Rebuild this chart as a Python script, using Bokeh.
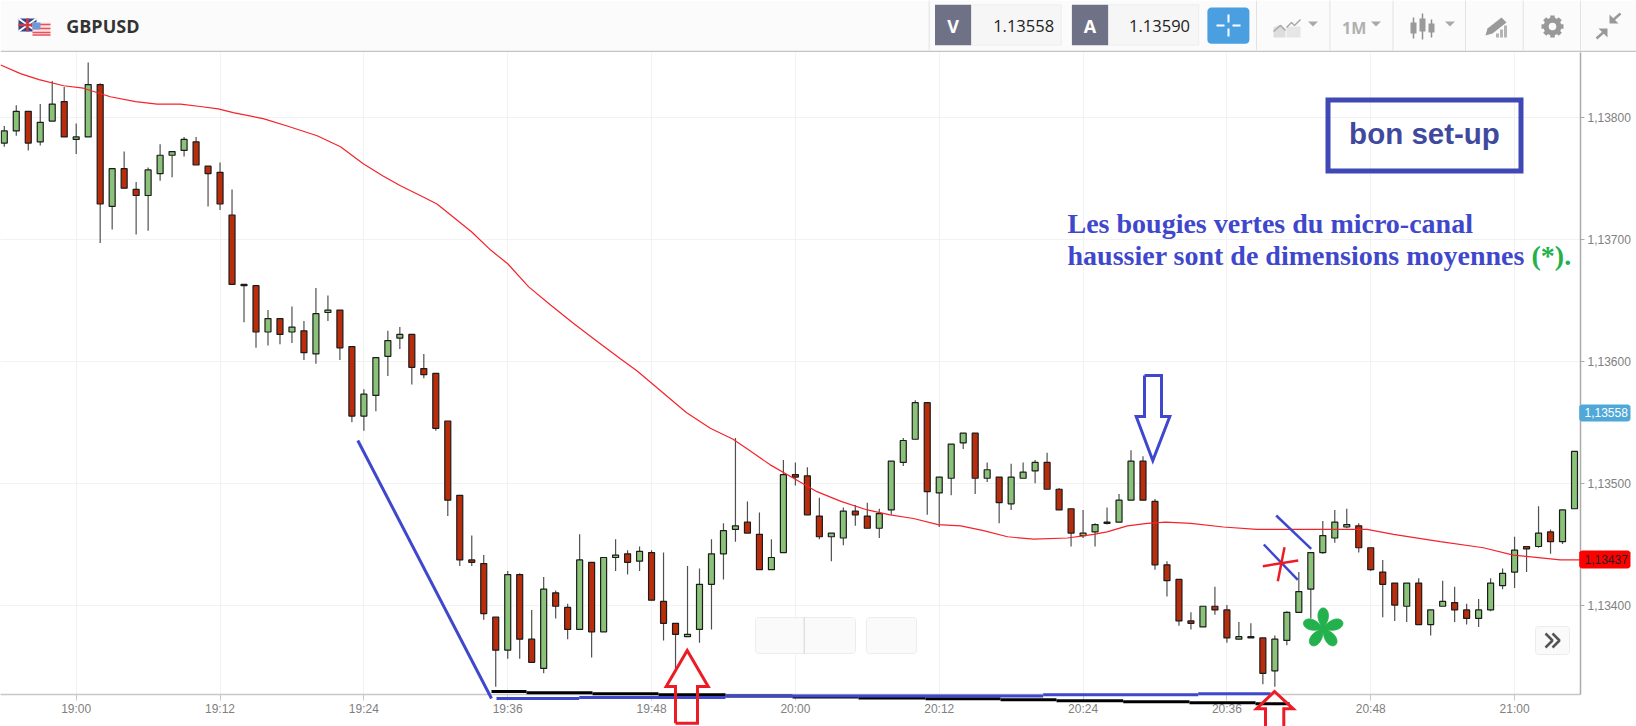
import numpy as np
from bokeh.embed import file_html
from bokeh.layouts import column
from bokeh.models import ColumnDataSource, FixedTicker, Range1d
from bokeh.plotting import figure
from bokeh.core.properties import value
from bokeh.resources import INLINE

# ---- data: candles, one per minute; prices are given as points above 1.13000
minutes = list(range(-6, 126))
opens = [779,789,805,780,797,813,782,784,827,727,758,741,736,754,769,773,780,760,755,720,
         662,662,624,635,624,625,606,640,642,612,555,572,604,619,622,594,590,551,490,437,
         434,390,363,425,372,348,410,398,380,435,378,439,442,436,443,403,385,374,380,417,
         442,462,468,458,429,443,507,506,473,456,455,477,473,463,478,517,536,566,492,504,
         533,541,504,505,483,504,510,517,495,479,457,460,467,468,486,518,485,433,421,387,
         382,399,396,372,373,373,346,371,394,413,443,455,464,465,447,427,418,399,418,384,
         399,402,396,389,396,416,427,448,448,460,452,479]
closes = [789,805,779,796,811,784,784,827,729,758,742,736,757,769,772,782,761,754,729,663,
          663,624,635,622,628,607,639,642,611,555,573,603,617,622,595,589,545,486,437,435,
          393,363,425,372,353,413,399,380,437,378,439,441,435,444,404,385,376,376,417,442,
          461,465,459,429,439,507,505,474,456,459,477,474,463,475,518,535,566,493,505,532,
          541,504,511,484,505,509,517,495,478,459,459,466,468,486,518,486,433,420,387,385,
          399,396,373,374,374,344,372,394,411,443,457,468,466,447,429,417,400,418,384,396,
          403,396,389,396,418,426,445,446,459,452,478,526]
highs = [793,810,805,811,830,825,795,845,828,758,772,747,759,778,772,784,784,760,763,741,
         663,662,642,635,645,633,660,654,642,612,577,603,625,628,622,606,590,551,490,457,
         441,390,428,426,396,423,412,401,458,435,439,454,445,448,445,443,385,432,430,454,
         467,537,485,476,454,519,517,513,488,459,480,482,484,479,518,537,568,566,505,532,
         541,541,517,505,516,517,519,525,496,479,478,467,480,491,527,522,487,436,421,394,
         399,415,400,386,385,373,375,395,427,443,469,478,479,467,447,437,418,418,422,396,
         420,415,401,405,422,430,456,448,481,462,478,526]
lows = [776,785,773,777,797,784,770,784,697,708,742,704,707,748,751,768,761,727,724,663,
        632,611,613,614,615,601,598,633,601,550,543,559,588,610,581,586,543,473,432,432,
        388,333,356,356,353,344,389,372,380,357,378,428,425,428,404,371,345,374,369,380,
        421,452,459,429,429,443,498,474,454,436,449,465,463,455,474,514,536,474,464,490,
        528,491,501,467,478,504,500,495,478,448,455,448,466,468,486,486,429,407,383,380,
        382,392,369,372,373,335,333,367,394,389,442,451,463,443,428,390,387,386,384,375,
        399,386,384,382,395,413,414,427,447,442,450,479]
ma_minutes = [-6.3,-4.65,-3.1,-1.05,0.6,2.85,4.95,6.75,8.7,10.35,11.85,13.1,15.6,17.6,20.1,22.05,
              23.95,25.6,27.05,28.7,30.1,31.5,33,34.6,36,37.75,39.6,41.5,43.5,45.4,46.8,50.9,
              52.9,54.8,56,57.9,59.85,61.8,63.8,66,67.9,69.85,71.9,73.8,75.7,77.7,79.9,82.7,
              84.9,86,87.7,89.35,90.9,93,95.7,98.5,101.3,104.9,107.7,109.9,113.8,117.4,119.9,
              123.8,125.5]
ma_points = [843,836,831,826,824,817,813,811,811,809,807,804,799,793,785,776,762,752,744,736,
             729,718,706,691,680,661,646,631,616,602,592,558,545,536,528,515,504,493,485,478,
             474,471,466,465,461,456,454,455,458,460,465,467,468,467,464,462,462,462,462,458,
             452,447,441,437,437]
time_ticks = [0, 12, 24, 36, 48, 60, 72, 84, 96, 108, 120]
time_labels = ["19:00","19:12","19:24","19:36","19:48","20:00","20:12","20:24","20:36","20:48","21:00"]
price_ticks = [1.134, 1.135, 1.136, 1.137, 1.138]
price_labels = ["1,13400","1,13500","1,13600","1,13700","1,13800"]
bid, ask, last_ma = 1.13558, 1.13590, 1.13437

to_price = lambda a: [1.13 + v / 1e5 for v in a]
O, C, H, L = map(to_price, (opens, closes, highs, lows))
GREEN, RED = "#8bc27a", "#b92c0c"

# ---- main chart: page pixels 0..1580 / 52..694 of the frame
X0, X1, Y0, Y1 = -6.316, 125.5, 1.133266, 1.138533
rx = lambda px: X0 + (np.asarray(px, float)) * (X1 - X0) / 1580
ry = lambda py: Y1 - (np.asarray(py, float) - 52) * (Y1 - Y0) / 642

p = figure(width=1636, height=674, output_backend="svg", toolbar_location=None,
           x_range=Range1d(X0, X1), y_range=Range1d(Y0, Y1), y_axis_location="right",
           min_border_left=0, min_border_right=56, min_border_top=0, min_border_bottom=32,
           outline_line_color=None, background_fill_color="white", border_fill_color="white")
p.xgrid.grid_line_color = "#f2f2f2"
p.ygrid.grid_line_color = "#f2f2f2"
p.xaxis.ticker = FixedTicker(ticks=time_ticks)
p.yaxis.ticker = FixedTicker(ticks=price_ticks)
p.xaxis.major_label_overrides = dict(zip(time_ticks, time_labels))
p.yaxis.major_label_overrides = dict(zip(price_ticks, price_labels))
for ax, col in ((p.xaxis, "#c8c8c8"), (p.yaxis, "#aaaaaa")):
    ax.axis_line_color = col
    ax.axis_line_width = 1.5
    ax.major_tick_line_color = col
    ax.minor_tick_line_color = None
    ax.major_tick_in = 0
    ax.major_label_text_font = "Liberation Sans"
    ax.major_label_text_font_size = "12px"
    ax.major_label_text_color = "#808080"
p.xaxis.major_tick_out = 6
p.yaxis.major_tick_out = 4
p.xaxis.major_label_standoff = 1
p.yaxis.major_label_standoff = 3

# empty nav buttons
def rounded(x0, y0, x1, y1, r=3):
    a = np.linspace(0, np.pi / 2, 5)
    xs = np.r_[x1 - r + r * np.sin(a), x1 - r + r * np.cos(a), x0 + r - r * np.sin(a), x0 + r - r * np.cos(a)]
    ys = np.r_[y0 + r - r * np.cos(a), y1 - r + r * np.sin(a), y1 - r + r * np.cos(a), y0 + r - r * np.sin(a)]
    return xs, ys

for b in ((755, 617, 855, 653), (866, 617, 916, 653), (1535, 626, 1569, 654)):
    xs, ys = rounded(*b)
    p.patch(rx(xs), ry(ys), fill_color="#fafafa", line_color="#ececec", line_width=1)
p.line(rx([803.7, 803.7]), ry([617, 653]), line_color="#d4d4d4")
for dx in (0, 7):
    p.line(rx(np.array([1545, 1552, 1545]) + dx), ry([633, 640, 647]), line_color="#555555", line_width=2.5)

# candles
src = ColumnDataSource(dict(m=minutes, o=O, c=C, h=H, l=L,
                            top=[max(a, b) for a, b in zip(O, C)],
                            bottom=[min(a, b) for a, b in zip(O, C)],
                            fill=[GREEN if b >= a else RED for a, b in zip(O, C)]))
p.segment("m", "h", "m", "l", source=src, line_color="#505050", line_width=1.2)
p.vbar("m", 0.5, "top", "bottom", source=src, fill_color="fill", line_color="#1c1c1c", line_width=1.2)
p.line(ma_minutes, [1.13 + v / 1e5 for v in ma_points], line_color="#f5222a", line_width=1.2)

# ---- transparent overlay, in page pixels, for marks that run past the plot frame
ov = figure(width=1636, height=674, output_backend="svg", toolbar_location=None,
            x_range=Range1d(0, 1636), y_range=Range1d(726, 52), min_border=0,
            outline_line_color=None, background_fill_alpha=0, border_fill_alpha=0)
ov.axis.visible = False
ov.grid.visible = False

BLUE, PEN_RED = "#3f48cc", "#ed1c24"
def pen(xs, ys, color=BLUE, w=3):
    ov.line(xs, ys, line_color=color, line_width=w, line_join="miter")

pen([357.3, 491], [440, 698])
for xs, ys in (([491, 526], [691, 691]), ([526, 592], [692.3, 692.3]), ([592, 658], [693.3, 693.3]),
               ([658, 725], [694.3, 694.3]), ([725, 792], [695.5, 695.5]), ([792, 858], [696.5, 696.5]),
               ([858, 925], [697.5, 697.5]), ([925, 1000], [698.3, 698.3]), ([1000, 1056], [699.3, 699.3]),
               ([1056, 1122.7], [700.3, 700.3]), ([1122.7, 1189], [701.3, 701.3]),
               ([1189, 1255], [702.3, 702.3]), ([1255, 1289], [703.3, 703.3])):
    pen(xs, ys, "#000000", 3)
for xs, ys in (([496, 578.7], [698, 698]), ([578.7, 725], [697, 697]), ([725, 1042.7], [695.5, 695.5]),
               ([1042.7, 1197.7], [694.3, 694.3]), ([1197.7, 1270], [693.3, 693.3])):
    pen(xs, ys, BLUE, 3)
pen([675, 675, 665.7, 686.7, 707.7, 697, 697, 675], [722.7, 686, 686, 650, 686, 686, 722.7, 722.7], PEN_RED, 3)
pen([1265, 1265, 1256, 1274, 1292.7, 1283.3, 1283.3], [730, 708.3, 708.3, 691, 708.3, 708.3, 730], PEN_RED, 3)
pen([1144, 1161, 1161, 1169.3, 1152.3, 1135.7, 1144, 1144], [375, 375, 416, 416, 460, 416, 416, 375], BLUE, 3)
pen([1275.7, 1310.7], [515, 548.3], BLUE, 2.5)
pen([1263.3, 1297.3], [544, 579.3], BLUE, 2.5)
pen([1284, 1277.3], [546.7, 580.7], PEN_RED, 2.5)
pen([1262.3, 1297.7], [565.7, 560], PEN_RED, 2.5)

phi = np.linspace(0, 2 * np.pi, 361)
rad = 20.5 * np.abs(np.cos(2.5 * phi)) ** 0.7
ov.patch(1322.7 + rad * np.cos(phi + np.pi / 2), 628 - rad * np.sin(phi + np.pi / 2),
         fill_color="#22b14c", line_color="#22b14c")

pen([1327.5, 1520.5, 1520.5, 1327.5, 1327.5], [99.5, 99.5, 170.5, 170.5, 97], "#3f48b4", 5)

def txt(fig, px, py, s, color, font, size, style="bold", align="left"):
    # the renderer draws "alphabetic" text lower by about 0.36 em: compensated here
    fig.text([px], [py - 0.36 * size], text=[s], text_color=color,
             text_font=value(font), text_font_size=f"{size}px", text_font_style=style,
             text_align=align, text_baseline="alphabetic")

txt(ov, 1424, 144, "bon set-up", "#3f4a9e", "Liberation Sans", 29.5, align="center")
txt(ov, 1067, 233, "Les bougies vertes du micro-canal", "#3f48cc", "Liberation Serif", 28)
txt(ov, 1067, 265, "haussier sont de dimensions moyennes", "#3f48cc", "Liberation Serif", 28)
txt(ov, 1531, 265, "(*).", "#22b14c", "Liberation Serif", 28)

for val, y0, y1, bg, fg in ((bid, 404, 421, "#4fa8d8", "white"), (last_ma, 550, 568, "#ff0000", "#222222")):
    xs, ys = rounded(1578.7, y0, 1630, y1, 3)
    ov.patch(xs, ys, fill_color=bg, line_color=None)
    txt(ov, 1584, (y0 + y1) / 2 + 4.3, f"{val:.5f}".replace(".", ","), fg, "Liberation Sans", 12, style="normal")

# ---- header bar, drawn in page pixels
h = figure(width=1636, height=52, output_backend="svg", toolbar_location=None,
           x_range=Range1d(0, 1636), y_range=Range1d(52, 0), min_border=0,
           outline_line_color=None, border_fill_color="white")
h.axis.visible = False
h.grid.visible = False
h.quad(left=0, right=1636, top=0, bottom=50.5, fill_color="#fbfbfb", line_color=None)
h.line([0, 1636], [51, 51], line_color="#c4c4c4", line_width=1.5)
for x in (928.7, 1256, 1329.4, 1392.5, 1465, 1522.7, 1580):
    h.line([x, x], [0, 50], line_color="#e2e2e2")

# flags
h.quad(left=18, right=36, top=18, bottom=31, fill_color="#31478a", line_color=None)
h.multi_line([[18, 36], [18, 36]], [[18, 31], [31, 18]], line_color="white", line_width=2)
h.multi_line([[27, 27], [18, 36]], [[18, 31], [24.5, 24.5]], line_color="#cf3a46", line_width=2.5)
h.quad(left=32, right=50, top=22, bottom=35, fill_color="#fbe3e3", line_color=None)
for y in (24, 28, 32, 34.5):
    h.line([32, 50], [y, y], line_color="#e8505a", line_width=1.5)
h.quad(left=32, right=40, top=22, bottom=29, fill_color="#6f9ad8", line_color=None)
txt(h, 65.7, 31.5, "GBPUSD", "#333333", "Open Sans", 18)

# V / A quotes
for x0, x1, x2, xt, letter, val in ((934.5, 970.6, 1060.8, 1053.6, "V", bid), (1071.4, 1107.6, 1198.2, 1189.5, "A", ask)):
    h.quad(left=x1, right=x2, top=4.3, bottom=44.7, fill_color="#f6f6f6", line_color="#eeeeee")
    h.quad(left=x0, right=x1, top=4.3, bottom=44.7, fill_color="#6f7287", line_color=None)
    txt(h, (x0 + x1) / 2, 32, letter, "white", "Open Sans", 18, align="center")
    txt(h, xt, 31, f"{val:.5f}", "#222222", "Open Sans", 16.5, style="normal", align="right")

# crosshair button
xs, ys = rounded(1206.9, 7, 1248.9, 43.3, 4)
h.patch(xs, ys, fill_color="#4a9fe0", line_color=None)
h.multi_line([[1228, 1228], [1228, 1228], [1216, 1224], [1232, 1240]],
             [[14, 22], [28, 36], [25, 25], [25, 25]], line_color="white", line_width=2)

GREY = "#a9a9a9"
# chart-type icon
h.patch([1273, 1273, 1280, 1285, 1285, 1273], [37, 27, 24, 29, 37, 37], fill_color="#dddddd", line_color=None)
h.patch([1286, 1286, 1300, 1300], [37, 26, 26, 37], fill_color="#e6e6e6", line_color=None)
h.line([1273, 1280, 1285], [31, 25, 30], line_color=GREY, line_width=1.5)
h.line([1286, 1291, 1294, 1300], [27, 22, 25, 19], line_color=GREY, line_width=1.5)
for x in (1312.5, 1375.5, 1449.5):
    h.patch([x - 5, x + 5, x], [21, 21, 26], fill_color=GREY, line_color=None)
txt(h, 1353.7, 33, "1M", "#b0b0b0", "Open Sans", 16, align="center")

# candle icon
for x, a, b, c, d in ((1413, 17, 22, 33, 38), (1422, 13, 18, 31, 39), (1431, 19, 23, 32, 37)):
    h.line([x, x], [a, d], line_color="#8f8f8f", line_width=1.5)
    h.quad(left=x - 3, right=x + 3, top=b, bottom=c, fill_color="#9a9a9a", line_color=None)

# drawing icon
h.patch([1487, 1501, 1506, 1492, 1485], [28, 17, 22, 33, 35], fill_color="#9a9a9a", line_color=None)
for x, y in ((1497, 33), (1501, 29), (1505, 25)):
    h.quad(left=x - 1.5, right=x + 1.5, top=y, bottom=37, fill_color="#b4b4b4", line_color=None)

# gear icon
h.annulus([1552], [26], inner_radius=3.8, outer_radius=9, fill_color="#999999", line_color=None)
h.rect([1552] * 4, [26] * 4, width=4.5, height=22, angle=[0, 0.785, 1.571, 2.356], fill_color="#999999", line_color=None)
h.circle([1552], [26], radius=3.8, fill_color="#fbfbfb", line_color=None)

# collapse icon
h.patch([1609, 1618, 1609], [14, 23, 23], fill_color="#999999", line_color=None)
h.line([1611, 1620], [21, 13], line_color="#999999", line_width=2.5)
h.patch([1607, 1598, 1607], [37, 28, 28], fill_color="#999999", line_color=None)
h.line([1605, 1596], [30, 38], line_color="#999999", line_width=2.5)

# each figure in its own column, so that the outer column does not align their frames
ov_box = column(ov, margin=(-674, 0, 0, 0))
page = column(column(h), column(p), ov_box, spacing=0)
open("out.html", "w").write(file_html(page, INLINE))
